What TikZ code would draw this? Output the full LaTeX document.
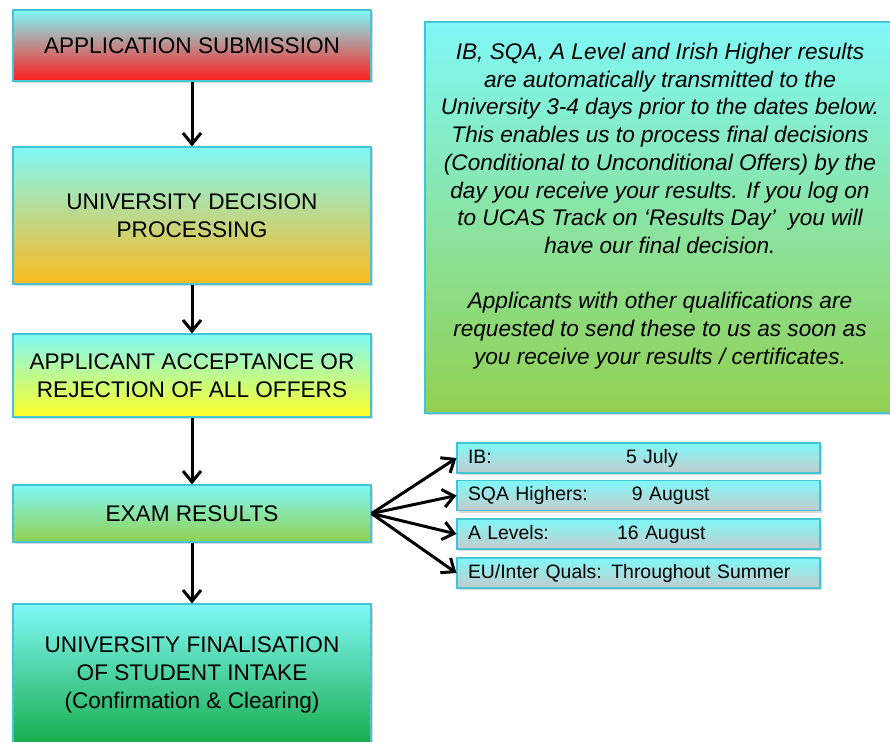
\documentclass[tikz,border=0pt]{standalone}
\usepackage{fontspec}
\setmainfont{Liberation Sans}
\usetikzlibrary{arrows.meta,shadows}

\definecolor{topcyan}{RGB}{128,248,248}
\definecolor{edgecyan}{RGB}{70,195,212}
\definecolor{submitred}{RGB}{255,28,28}
\definecolor{decideorange}{RGB}{251,186,30}
\definecolor{acceptyellow}{RGB}{255,255,36}
\definecolor{examgreen}{RGB}{146,208,80}
\definecolor{finalgreen}{RGB}{22,172,74}
\definecolor{dategray}{RGB}{196,204,206}

\tikzset{
    stage/.style={draw=edgecyan, line width=0.6pt, top color=topcyan,
        minimum width=179pt, align=center,
        font=\fontsize{11.3}{14}\selectfont,
        drop shadow={shadow xshift=1.2pt, shadow yshift=-1.2pt, opacity=0.3}},
    datebox/.style={stage, bottom color=dategray, minimum width=181.5pt,
        minimum height=15pt, text width=170.5pt, inner xsep=5.5pt, inner ysep=0pt,
        align=left, font=\fontsize{9.7}{12}\selectfont},
    flow/.style={-{Straight Barb[length=5.5pt,width=9pt]}, line width=1.5pt, black}
}

\begin{document}
\begin{tikzpicture}[x=0.5pt, y=-0.5pt]
    % Page area
    \path[use as bounding box, fill=white] (0,0) rectangle (890,741);

    % Main stages, top to bottom
    \node[stage, bottom color=submitred, minimum height=35.5pt] (apply) at (192,45.5)
        {APPLICATION SUBMISSION};
    \node[stage, bottom color=decideorange, minimum height=68.5pt] (decide) at (192,215.5)
        {UNIVERSITY DECISION\\PROCESSING};
    \node[stage, bottom color=acceptyellow, minimum height=41.5pt] (accept) at (192,375.5)
        {APPLICANT ACCEPTANCE OR\\REJECTION OF ALL OFFERS};
    \node[stage, bottom color=examgreen, minimum height=28.5pt] (exam) at (192,513.5)
        {EXAM RESULTS};
    \node[stage, bottom color=finalgreen, minimum height=71pt] (final) at (192,675)
        {UNIVERSITY FINALISATION\\OF STUDENT INTAKE\\(Confirmation \& Clearing)};

    \foreach \a/\b in {apply/decide, decide/accept, accept/exam, exam/final} {
        \draw[flow] (\a) -- (\b);
    }

    % Information panel
    \node[stage, bottom color=examgreen, minimum width=235pt, minimum height=195.5pt] (info) at (660,217.5) {};
    \node[align=center, font=\fontsize{11.3}{13.85}\selectfont\itshape] (infotext) at (660,206)
        {IB, SQA, A Level and Irish Higher results\\
         are automatically transmitted to the\\
         University 3-4 days prior to the dates below.\\
         This enables us to process final decisions\\
         (Conditional to Unconditional Offers) by the\\
         day you receive your results. If you log on\\
         to UCAS Track on `Results Day'\ \ you will\\
         have our final decision.\\[13.85pt]
         Applicants with other qualifications are\\
         requested to send these to us as soon as\\
         you receive your results / certificates.};

    % Results dates
    \node[datebox] (ib) at (638.5,458) {\makebox[79pt][l]{IB:}5 July};
    \node[datebox] (sqa) at (638.5,495.5) {\makebox[82pt][l]{SQA Highers:}9 August};
    \node[datebox] (alev) at (638.5,534) {\makebox[74.5pt][l]{A Levels:}16 August};
    \node[datebox] (eu) at (638.5,573) {EU/Inter Quals: Throughout Summer};

    \foreach \d in {ib, sqa, alev, eu} {
        \draw[flow] (exam.east) -- (\d.west);
    }
\end{tikzpicture}
\end{document}
